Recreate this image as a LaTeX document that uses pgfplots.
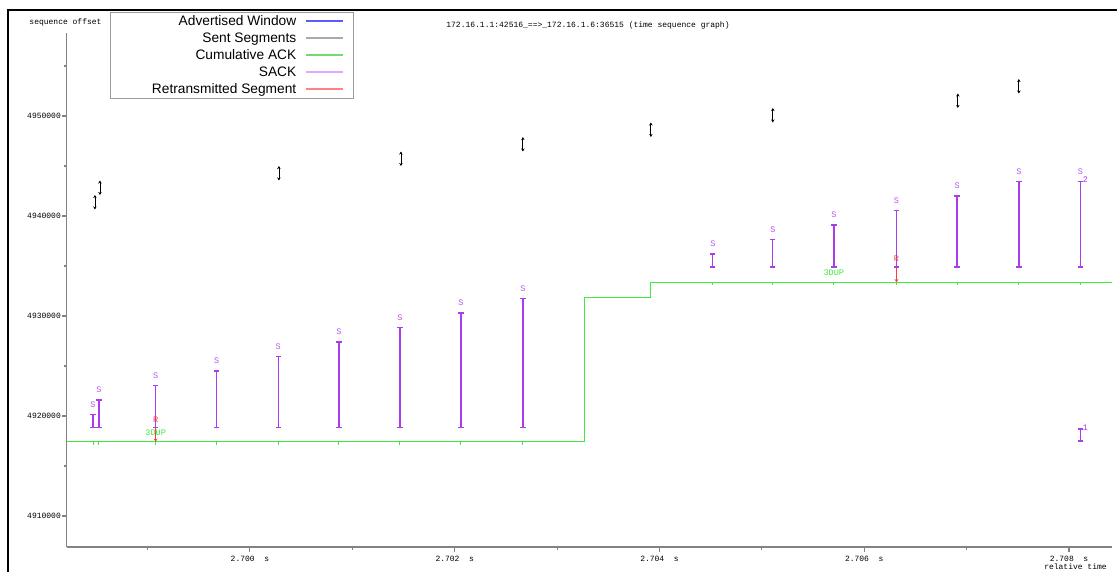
\documentclass[border=0pt]{standalone}
\usepackage{pgfplots}
\pgfplotsset{compat=1.18}
\usepackage{pgfplotstable}
\usepackage{fontspec}
\setmainfont{Liberation Sans}
\newfontfamily\xmono{Liberation Mono}
\usetikzlibrary{arrows.meta}

\definecolor{ackgreen}{RGB}{60,235,60}
\definecolor{sackpurple}{RGB}{170,60,235}
\definecolor{retxred}{RGB}{250,60,60}
\definecolor{axisgray}{RGB}{130,130,130}
\definecolor{legblue}{RGB}{90,90,255}
\definecolor{leggray}{RGB}{170,170,170}
\definecolor{leggreen}{RGB}{110,220,110}
\definecolor{leglilac}{RGB}{220,170,255}
\definecolor{legred}{RGB}{255,130,130}

\newcommand{\smallmono}{\xmono\fontsize{6}{7}\selectfont}
\newcommand{\labelmono}{\xmono\fontsize{6.4}{7.5}\selectfont}
\newcommand{\legfont}{\fontsize{10.3}{12}\selectfont}
\newcommand{\legentry}[1]{\makebox[136pt][r]{#1}}

% SACK blocks: left edge and length of each block
\pgfplotstableread{
t        seq      len
2.698467 4918770  1450
2.698525 4918770  2900
2.699079 4918770  4350
2.699675 4918770  5800
2.700276 4918770  7250
2.700869 4918770  8700
2.701465 4918770 10150
2.702061 4918770 11600
2.702666 4918770 13050
2.704521 4934830  1450
2.705107 4934830  2900
2.705703 4934830  4350
2.706315 4934830  5800
2.706907 4934830  7250
2.707510 4934830  8700
2.708112 4934830  8700
}\sacktable

% segments sent with new data
\pgfplotstableread{
t        seq      len
2.698486 4940650 1450
2.698535 4942100 1450
2.700283 4943550 1450
2.701475 4945000 1450
2.702666 4946450 1450
2.703916 4947900 1450
2.705107 4949350 1450
2.706914 4950800 1450
2.707510 4952250 1450
}\segtable

% retransmitted segments (drawn downwards)
\pgfplotstableread{
t        seq      len
2.699079 4918770 -1350
2.706315 4934830 -1460
}\retxtable

\begin{document}
\begin{tikzpicture}
\useasboundingbox (0pt,0pt) rectangle (837.75pt,429pt);
\draw[black, line width=1.4pt] (6pt,0pt) -- (6pt,421.5pt) -- (837.75pt,421.5pt);
\begin{axis}[
  at={(50.0pt,18.75pt)}, anchor=south west,
  scale only axis, width=784pt, height=385.5pt,
  xmin=2.69821, xmax=2.70842,
  ymin=4906900, ymax=4958300,
  scaled x ticks=false, scaled y ticks=false,
  axis x line*=bottom, axis y line*=left,
  axis line style={-, axisgray, line width=1.1pt},
  tick align=outside,
  major tick length=3.6pt, minor tick length=2.2pt,
  tick style={axisgray, line width=0.8pt},
  xtick={2.700,2.702,2.704,2.706,2.708},
  xticklabels={2.700\ \ s,2.702\ \ s,2.704\ \ s,2.706\ \ s,2.708\ \ s},
  minor xtick={2.699,2.701,2.703,2.705,2.707},
  ytick={4910000,4920000,4930000,4940000,4950000},
  yticklabels={4910000,4920000,4930000,4940000,4950000},
  minor ytick={4915000,4925000,4935000,4945000,4955000},
  xticklabel style={font=\smallmono},
  yticklabel style={font=\smallmono, inner sep=0.6pt},
  legend plot pos=right,
  legend cell align=right,
  legend image code/.code={\draw[#1] (0pt,0pt) -- (27.75pt,0pt); \path (31.5pt,0pt);},
  legend style={at={(0.0412,1.041)}, anchor=north west,
    draw=axisgray!80, line width=0.8pt, fill=white, font=\legfont,
    inner xsep=3.5pt, inner ysep=0.3pt, column sep=6.75pt, row sep=0pt,
    nodes={inner xsep=0pt, inner ysep=2pt, text height=7.6pt, text depth=1.15pt}},
]
\addlegendimage{legblue, line width=1.3pt}
\addlegendentry{\legentry{Advertised Window}}
\addlegendimage{leggray, line width=1.3pt}
\addlegendentry{\legentry{Sent Segments}}
\addlegendimage{leggreen, line width=1.3pt}
\addlegendentry{\legentry{Cumulative ACK}}
\addlegendimage{leglilac, line width=1.3pt}
\addlegendentry{\legentry{SACK}}
\addlegendimage{legred, line width=1.3pt}
\addlegendentry{\legentry{Retransmitted Segment}}

% cumulative ACK
\addplot[ackgreen, line width=0.9pt, const plot, forget plot] coordinates {
  (2.69821,4917420) (2.703271,4931840) (2.703916,4933370) (2.70842,4933370)};
% ACK arrival ticks
\addplot[ackgreen, only marks, mark=|, mark size=1.1pt, line width=0.7pt, forget plot] coordinates {
  (2.698467,4917270) (2.698525,4917270) (2.699079,4917270) (2.699675,4917270)
  (2.700276,4917270) (2.700869,4917270) (2.701465,4917270) (2.702061,4917270)
  (2.702666,4917270)
  (2.704521,4933220) (2.705107,4933220) (2.705703,4933220) (2.706315,4933220)
  (2.706907,4933220) (2.707510,4933220) (2.708112,4933220)};

% retransmissions
\addplot[retxred, line width=1pt, quiver={u=0,v=\thisrow{len}},
  -{Stealth[length=2.4pt,width=2.8pt]}, forget plot] table[x=t,y=seq] {\retxtable};

% SACK blocks
\addplot[sackpurple, line width=1pt, quiver={u=0,v=\thisrow{len}},
  {Bar[width=4pt]}-{Bar[width=4pt]}, forget plot] table[x=t,y=seq] {\sacktable};
\addplot[sackpurple, line width=1pt, quiver={u=0,v=1350},
  {Bar[width=4pt]}-{Bar[width=4pt]}, forget plot] coordinates {(2.708112,4917420)};

% sent segments
\addplot[black, line width=0.6pt, quiver={u=0,v=\thisrow{len}},
  {Stealth[length=2.3pt,width=2.6pt]}-{Stealth[length=2.3pt,width=2.6pt]}, forget plot]
  table[x=t,y=seq] {\segtable};

% annotations
\addplot[draw=none, forget plot, nodes near coords={S},
  every node near coord/.append style={font=\labelmono, text=sackpurple!85, anchor=center, yshift=6.9pt, inner sep=0pt}]
  table[x=t, y expr=\thisrow{seq}+\thisrow{len}] {\sacktable};
\addplot[draw=none, forget plot, nodes near coords={R},
  every node near coord/.append style={font=\labelmono, text=retxred, anchor=center, yshift=6.6pt, inner sep=0pt}]
  table[x=t,y=seq] {\retxtable};
\addplot[draw=none, forget plot, nodes near coords={3DUP},
  every node near coord/.append style={font=\labelmono, text=ackgreen, anchor=center, yshift=7.2pt, inner sep=0pt}]
  coordinates {(2.699079,4917420) (2.705703,4933370)};
\addplot[draw=none, forget plot, point meta=explicit symbolic, nodes near coords,
  every node near coord/.append style={font=\labelmono, text=sackpurple, anchor=center, xshift=3.8pt, yshift=0.8pt, inner sep=0pt}]
  coordinates {(2.708112,4943530) [2] (2.708112,4918770) [1]};
\end{axis}
\node[font=\smallmono] at (49.1pt,412.5pt) {sequence offset};
\node[font=\smallmono] at (441pt,410.25pt) {172.16.1.1:42516\_==>\_172.16.1.6:36515 (time sequence graph)};
\node[font=\smallmono] at (806.6pt,3.9pt) {relative time};
\end{tikzpicture}
\end{document}
